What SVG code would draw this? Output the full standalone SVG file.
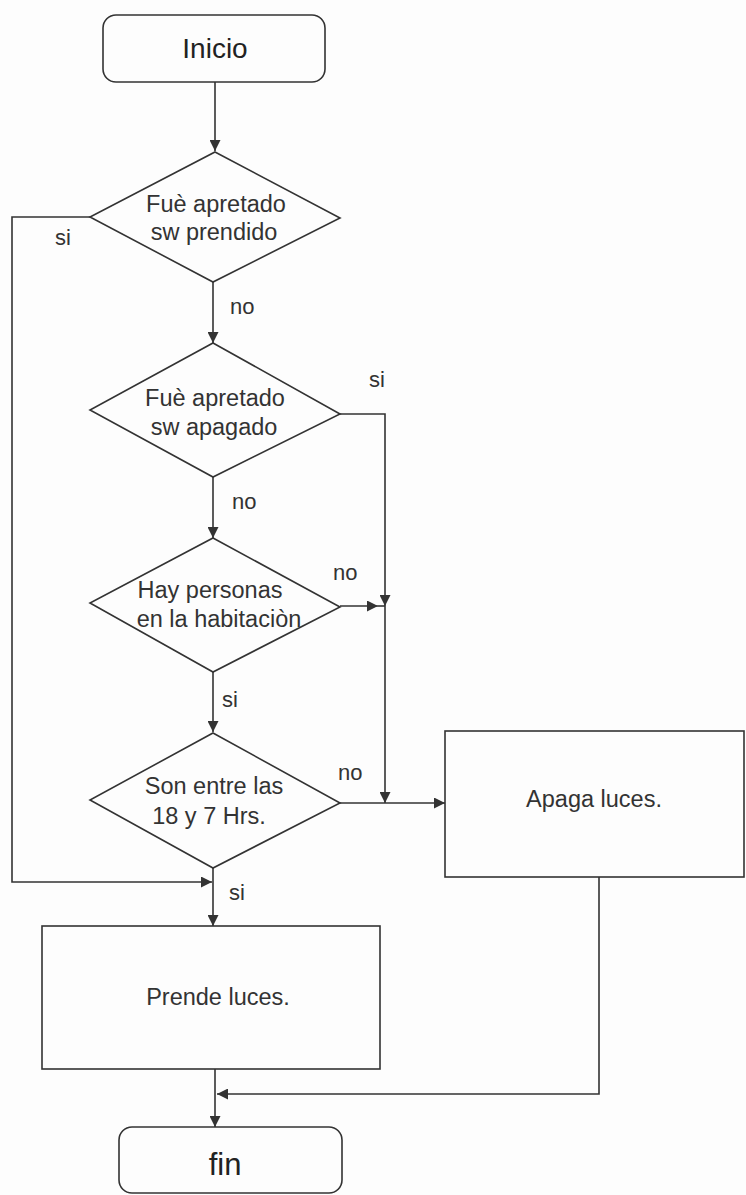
<svg xmlns="http://www.w3.org/2000/svg" width="746" height="1195" viewBox="0 0 746 1195">
  <style>
    .shape { fill: none; stroke: #333; stroke-width: 1.6; }
    .wire { fill: none; stroke: #333; stroke-width: 1.6; }
    .txt { font-family: "Liberation Sans", Arial, sans-serif; fill: #333; text-anchor: middle; }
    .big { font-size: 28px; fill: #222; }
    .fin { font-size: 31px; fill: #222; }
    .lbl { font-size: 23.5px; }
    .tag { font-size: 22px; text-anchor: start; }
  </style>
  <defs>
    <marker id="arrow" markerUnits="userSpaceOnUse" markerWidth="11" markerHeight="11" refX="11" refY="5.5" orient="auto">
      <path d="M0,0 L11,5.5 L0,11 Z" fill="#333"/>
    </marker>
  </defs>
  <rect width="746" height="1195" fill="#fdfdfd"/>

  <!-- connectors -->
  <g id="connectors" class="wire">
    <path d="M215,82 V151" marker-end="url(#arrow)"/>
    <path d="M213,282 V343" marker-end="url(#arrow)"/>
    <path d="M213,477 V538" marker-end="url(#arrow)"/>
    <path d="M213,672 V732" marker-end="url(#arrow)"/>
    <path d="M213,868 V926" marker-end="url(#arrow)"/>
    <path d="M90,217 H12 V882 H212" marker-end="url(#arrow)"/>
    <path d="M340,414 H385 V606" marker-end="url(#arrow)"/>
    <path d="M340,606 H378" marker-end="url(#arrow)"/>
    <path d="M378,606 H385"/>
    <path d="M385,606 V803" marker-end="url(#arrow)"/>
    <path d="M340,803 H445" marker-end="url(#arrow)"/>
    <path d="M599,877 V1094 H217" marker-end="url(#arrow)"/>
    <path d="M215,1069 V1127" marker-end="url(#arrow)"/>
  </g>

  <!-- branch labels -->
  <g id="labels" class="txt tag">
    <text x="55" y="245">si</text>
    <text x="230" y="314">no</text>
    <text x="369" y="387">si</text>
    <text x="232" y="509">no</text>
    <text x="333" y="580">no</text>
    <text x="222" y="707">si</text>
    <text x="338" y="780">no</text>
    <text x="229" y="900">si</text>
  </g>

  <g id="inicio">
    <rect class="shape" x="103" y="15" width="222" height="67" rx="13"/>
    <text class="txt big" x="215" y="58">Inicio</text>
  </g>

  <g id="sw-prendido">
    <polygon class="shape" points="215,152 340,218 213,282 90,217"/>
    <text class="txt lbl" x="216" y="212">Fuè apretado</text>
    <text class="txt lbl" x="214" y="240">sw prendido</text>
  </g>

  <g id="sw-apagado">
    <polygon class="shape" points="213,343 340,414 213,477 90,410"/>
    <text class="txt lbl" x="215" y="406">Fuè apretado</text>
    <text class="txt lbl" x="214" y="435">sw apagado</text>
  </g>

  <g id="personas">
    <polygon class="shape" points="213,538 340,607 213,672 90,603"/>
    <text class="txt lbl" x="210" y="598">Hay personas</text>
    <text class="txt lbl" x="219" y="627">en la habitaciòn</text>
  </g>

  <g id="horario">
    <polygon class="shape" points="213,733 340,803 213,868 90,800"/>
    <text class="txt lbl" x="214" y="794">Son entre las</text>
    <text class="txt lbl" x="209" y="824">18 y 7 Hrs.</text>
  </g>

  <g id="apaga">
    <rect class="shape" x="445" y="731" width="299" height="146"/>
    <text class="txt lbl" x="594" y="807">Apaga luces.</text>
  </g>

  <g id="prende">
    <rect class="shape" x="42" y="926" width="338" height="143"/>
    <text class="txt lbl" x="218" y="1005">Prende luces.</text>
  </g>

  <g id="fin">
    <rect class="shape" x="119" y="1127" width="223" height="66" rx="13"/>
    <text class="txt fin" x="225" y="1175">fin</text>
  </g>
</svg>
